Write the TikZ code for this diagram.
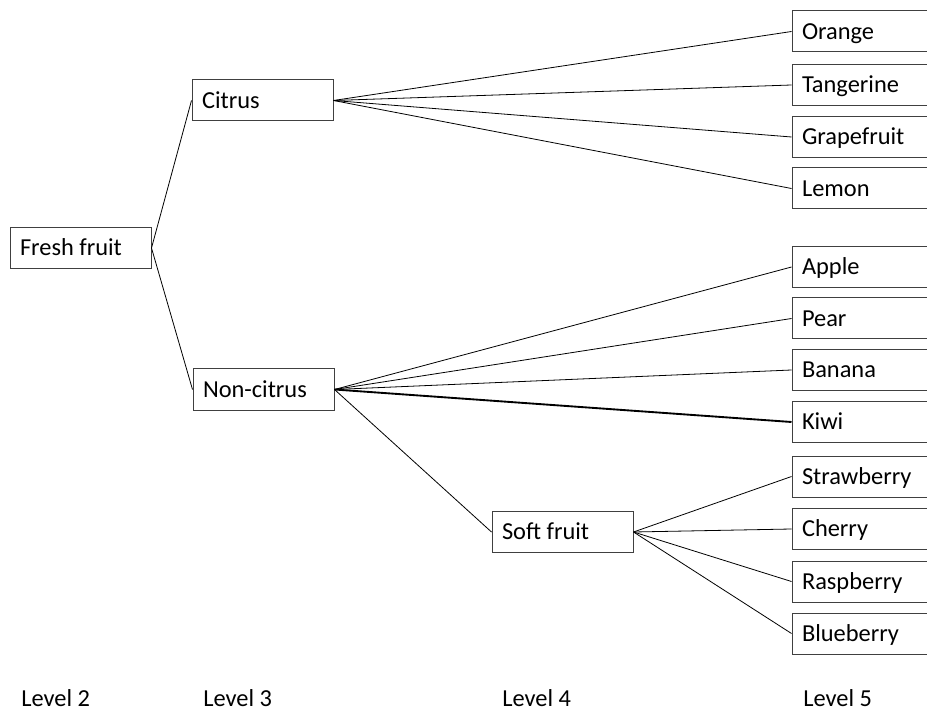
\documentclass[tikz,border=0pt]{standalone}
\usepackage{fontspec}
\setmainfont{Carlito}
\usepackage{tikz}
\usetikzlibrary{positioning}
\tikzset{fruitbox/.style={draw=black!75, line width=0.75pt, fill=white, minimum height=30.75pt, text width=90.75pt, text height=11.8pt, text depth=0pt, inner xsep=7.5pt, align=flush left, font=\fontsize{18.3}{22}\selectfont}}
\tikzset{levellabel/.style={inner sep=0pt, anchor=base west, font=\fontsize{18.3}{22}\selectfont}}
\tikzset{branch/.style={draw=black, line width=0.6pt}}

\begin{document}
\begin{tikzpicture}[x=0.75pt, y=-0.75pt]

\useasboundingbox (0,0) rectangle (927,712);
\clip (0,0) rectangle (927,712);

\node[fruitbox] (fresh) at (80.5, 248) {Fresh fruit};

\node[fruitbox] (citrus) at (262.5, 100.5) {Citrus};
\node[fruitbox] (noncitrus) at (263.5, 389.5) {Non-citrus};

\node[fruitbox] (soft) at (562.5, 532) {Soft fruit};

\node[fruitbox] (orange) at (862.5, 31.5) {Orange};
\node[fruitbox] (tangerine) at (862.5, 85) {Tangerine};
\node[fruitbox] (grapefruit) at (862.5, 137) {Grapefruit};
\node[fruitbox] (lemon) at (862.5, 188.5) {Lemon};

\node[fruitbox] (apple) at (862.5, 267) {Apple};
\node[fruitbox] (pear) at (862.5, 318.5) {Pear};
\node[fruitbox] (banana) at (862.5, 370) {Banana};
\node[fruitbox] (kiwi) at (862.5, 422) {Kiwi};

\node[fruitbox] (strawberry) at (862.5, 476.5) {Strawberry};
\node[fruitbox] (cherry) at (862.5, 529) {Cherry};
\node[fruitbox] (raspberry) at (862.5, 581.5) {Raspberry};
\node[fruitbox] (blueberry) at (862.5, 633.5) {Blueberry};

\node[levellabel] (lvl2) at (21, 706) {Level 2};
\node[levellabel] (lvl3) at (203, 706) {Level 3};
\node[levellabel] (lvl4) at (502, 706) {Level 4};
\node[levellabel] (lvl5) at (803, 706) {Level 5};

\draw[branch] (fresh.east) -- (citrus.west);
\draw[branch] (fresh.east) -- (noncitrus.west);

\draw[branch] (citrus.east) -- (orange.west);
\draw[branch] (citrus.east) -- (tangerine.west);
\draw[branch] (citrus.east) -- (grapefruit.west);
\draw[branch] (citrus.east) -- (lemon.west);

\draw[branch] (noncitrus.east) -- (apple.west);
\draw[branch] (noncitrus.east) -- (pear.west);
\draw[branch] (noncitrus.east) -- (banana.west);
\draw[branch, line width=1.4pt] (noncitrus.east) -- (kiwi.west);
\draw[branch] (noncitrus.east) -- (soft.west);

\draw[branch] (soft.east) -- (strawberry.west);
\draw[branch] (soft.east) -- (cherry.west);
\draw[branch] (soft.east) -- (raspberry.west);
\draw[branch] (soft.east) -- (blueberry.west);

\end{tikzpicture}
\end{document}
